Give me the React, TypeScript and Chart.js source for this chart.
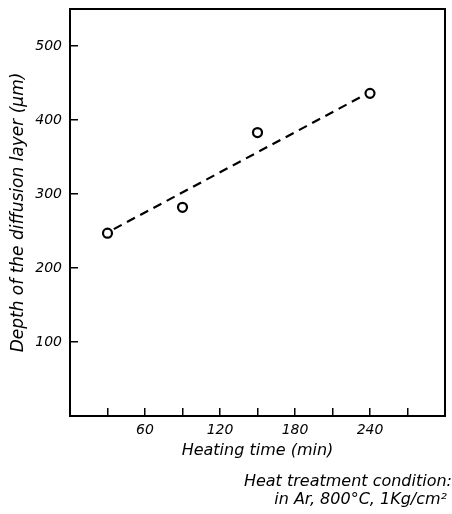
import React, { useEffect, useRef } from 'react';
import { Chart, registerables } from 'chart.js';

Chart.register(...registerables);

// Data
const heatingTime = [30, 90, 150, 240];
const depth = [247, 282, 383, 436];
const fitTime = [35, 232];
const fitDepth = [252.5, 430.5];
const xLabelValues = [60, 120, 180, 240];
const yLabelValues = [100, 200, 300, 400, 500];
const captionLines = ['Heat treatment condition:', 'in Ar, 800°C, 1Kg/cm²'];
const xTitle = 'Heating time (min)';
const yTitle = 'Depth of the diffusion layer (μm)';

const FONT = "'DejaVu Sans', sans-serif";

const framePlugin = {
  id: 'frame',
  afterDraw(chart: any) {
    const { ctx, chartArea } = chart;
    const { left, top, right, bottom } = chartArea;
    ctx.save();
    ctx.strokeStyle = '#000';
    ctx.lineWidth = 2;
    ctx.strokeRect(left, top, right - left, bottom - top);
    ctx.restore();
  },
};

const captionPlugin = {
  id: 'caption',
  afterDraw(chart: any) {
    const { ctx, width } = chart;
    ctx.save();
    ctx.fillStyle = '#000';
    ctx.font = `italic 16px ${FONT}`;
    ctx.textAlign = 'right';
    ctx.textBaseline = 'middle';
    ctx.fillText(captionLines[0], width, 482);
    ctx.fillText(captionLines[1], width - 5, 500);
    ctx.restore();
  },
};

function zeroPadding(scale: any) {
  scale.paddingTop = 0;
  scale.paddingBottom = 0;
  scale.paddingLeft = 0;
  scale.paddingRight = 0;
}

export default function App() {
  const ref = useRef<HTMLCanvasElement | null>(null);

  useEffect(() => {
    if (!ref.current) return;
    const chart = new Chart(ref.current, {
      type: 'scatter',
      data: {
        datasets: [
          {
            type: 'line',
            data: fitTime.map((x, i) => ({ x, y: fitDepth[i] })),
            borderColor: '#000',
            borderWidth: 2.2,
            borderDash: [9, 6],
            pointRadius: 0,
            fill: false,
          } as any,
          {
            type: 'scatter',
            data: heatingTime.map((x, i) => ({ x, y: depth[i] })),
            pointStyle: 'circle',
            pointRadius: 4.5,
            pointBorderWidth: 2.2,
            borderColor: '#000',
            backgroundColor: '#fff',
            pointBackgroundColor: '#fff',
            pointBorderColor: '#000',
          } as any,
        ],
      },
      options: {
        animation: false,
        responsive: false,
        events: [],
        layout: { padding: { top: 9, right: 7, left: 0, bottom: 0 } },
        plugins: {
          legend: { display: false },
          tooltip: { enabled: false },
          title: { display: false },
        },
        scales: {
          x: {
            type: 'linear',
            min: 0,
            max: 300,
            border: { display: false },
            grid: {
              drawOnChartArea: false,
              drawTicks: true,
              tickLength: -8,
              color: '#000',
              lineWidth: 1.5,
            },
            ticks: {
              stepSize: 30,
              autoSkip: false,
              maxRotation: 0,
              includeBounds: false,
              padding: 14,
              color: '#000',
              font: { family: FONT, size: 14, style: 'italic' },
              callback: (v: any) => (xLabelValues.includes(Number(v)) ? String(v) : ''),
            },
            title: {
              display: true,
              text: xTitle,
              color: '#000',
              font: { family: FONT, size: 16, style: 'italic' },
              padding: { top: 0, bottom: 54 },
            },
            afterFit(scale: any) {
              scale.height = 98;
              zeroPadding(scale);
            },
          },
          y: {
            type: 'linear',
            min: 0,
            max: 550,
            border: { display: false },
            grid: {
              drawOnChartArea: false,
              drawTicks: true,
              tickLength: -8,
              color: '#000',
              lineWidth: 1.5,
            },
            ticks: {
              stepSize: 100,
              autoSkip: false,
              includeBounds: false,
              padding: 16,
              color: '#000',
              font: { family: FONT, size: 14, style: 'italic' },
              callback: (v: any) => (yLabelValues.includes(Number(v)) ? String(v) : ''),
            },
            title: {
              display: true,
              text: yTitle,
              color: '#000',
              font: { family: FONT, size: 17, style: 'italic' },
              padding: { top: 8, bottom: 0 },
            },
            afterFit(scale: any) {
              scale.width = 70;
              zeroPadding(scale);
            },
          },
        },
      },
      plugins: [framePlugin, captionPlugin],
    } as any);
    return () => chart.destroy();
  }, []);

  return (
    <div style={{ position: 'fixed', left: 0, top: 0, width: 452, height: 514, background: '#fff' }}>
      <canvas ref={ref} width={452} height={514} style={{ display: 'block' }} />
    </div>
  );
}
